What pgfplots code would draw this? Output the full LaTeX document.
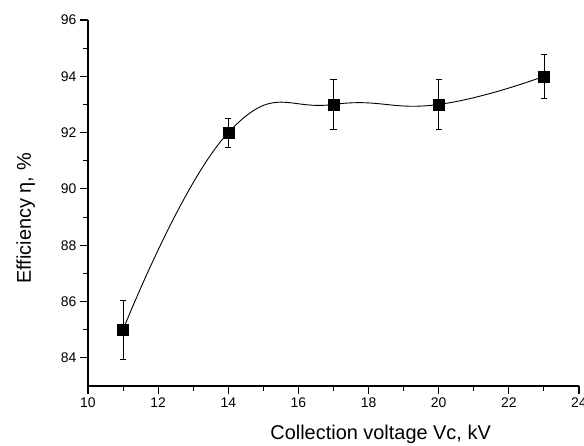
\documentclass[border=0pt]{standalone}
\usepackage{fontspec}
\setmainfont{Liberation Sans}
\usepackage{pgfplots}
\pgfplotsset{compat=1.18}
\begin{document}
\begin{tikzpicture}
\begin{axis}[name=ax, at={(0,0)}, anchor=south west,
  scale only axis, width=491bp, height=366bp,
  xmin=10, xmax=24, ymin=83, ymax=96,
  axis x line*=bottom, axis y line*=left,
  xtick={10,12,...,24}, ytick={84,86,...,96},
  minor x tick num=1, minor y tick num=1,
  tick align=outside,
  major tick length=8bp, minor tick length=4.5bp,
  every tick/.style={line width=1.1bp, black},
  axis line style={line width=1.4bp},
  every tick label/.append style={font=\fontsize{14}{16}\selectfont},
  /pgf/number format/assume math mode=true,
  label style={font=\fontsize{20}{24}\selectfont},
  xlabel={Collection voltage Vc, kV},
  ylabel={Efficiency η, \%},
  xlabel style={at={([yshift=-53bp]axis description cs:0.596,0)}, anchor=base},
  ylabel style={at={([xshift=-57bp]axis description cs:0,0.458)}, anchor=base, rotate=0},
]
\addplot[black, line width=0.9bp, smooth, tension=0.8, no marks] coordinates {
  (11,85) (14,92) (17,93) (20,93) (23,94)
};
\addplot[black, only marks, mark=square*, mark size=5.5bp,
  error bars/.cd, y dir=both, y explicit,
  error bar style={line width=0.8bp, black},
  error mark options={rotate=90, mark size=3.2bp, line width=0.8bp, black}]
  coordinates {
  (11,85) +- (0,1.05)
  (14,92) +- (0,0.52)
  (17,93) +- (0,0.9)
  (20,93) +- (0,0.9)
  (23,94) +- (0,0.78)
};
\end{axis}
\pgfresetboundingbox
\useasboundingbox ([xshift=-88bp,yshift=-60bp]ax.south west) rectangle ([xshift=5bp,yshift=20bp]ax.north east);
\end{tikzpicture}
\end{document}
